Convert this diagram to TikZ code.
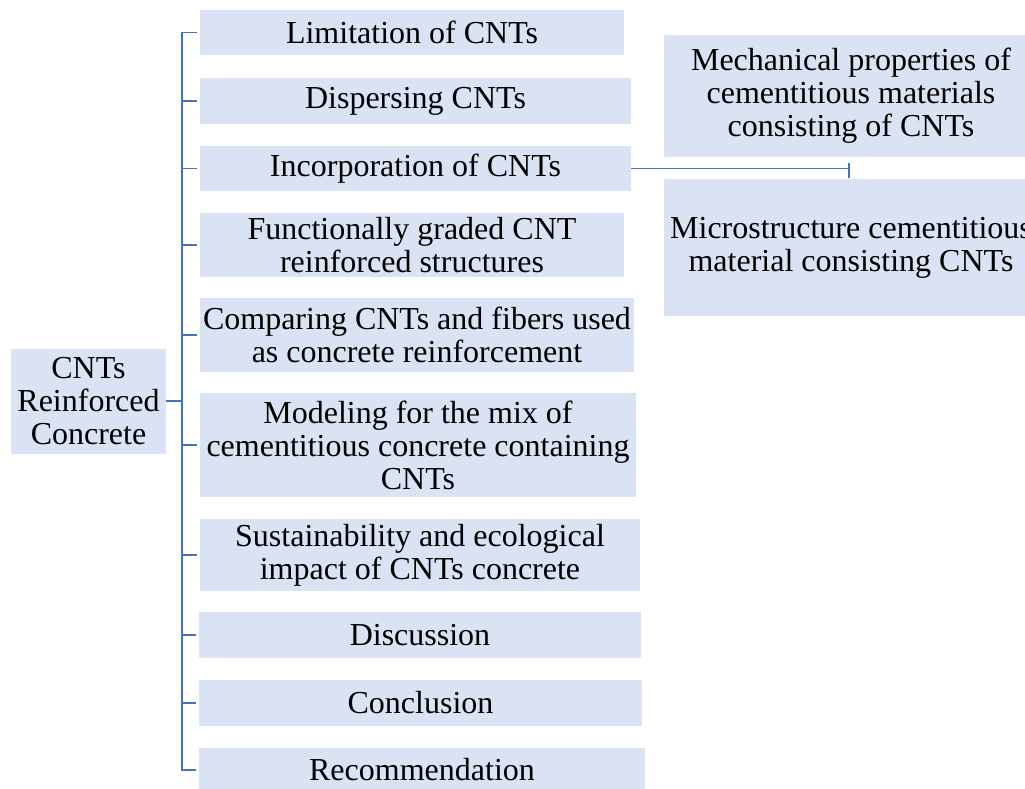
\documentclass[tikz,border=0pt]{standalone}
\usepackage{fontspec}
\setmainfont{Liberation Serif}
\definecolor{boxfill}{HTML}{DAE3F3}
\definecolor{linkblue}{HTML}{4472C4}
\tikzset{
  topic/.style={fill=boxfill, draw=none, inner sep=0pt, align=center,
    font=\fontsize{24}{24.75}\selectfont, text=black},
  link/.style={draw=linkblue, line width=1.1pt}
}
\begin{document}
\begin{tikzpicture}[x=0.75pt,y=-0.75pt]
\clip (0,0) rectangle (1025,789);
\fill[white] (0,0) rectangle (1025,789);
\node[topic, minimum width=116.25pt, minimum height=78.75pt] (root) at (88.5,401) {CNTs\\Reinforced\\Concrete};
\node[topic, minimum width=318pt, minimum height=33.75pt] (b1) at (412,32.5) {Limitation of CNTs};
\node[topic, minimum width=323.25pt, minimum height=34.5pt] (b2) at (415.5,101) {Dispersing CNTs};
\node[topic, minimum width=323.25pt, minimum height=33.75pt] (b3) at (415.5,168.5) {Incorporation of CNTs};
\node[topic, minimum width=318pt, minimum height=48pt] (b4) at (412,245) {Functionally graded CNT\\reinforced structures};
\node[topic, minimum width=325.5pt, minimum height=55.5pt] (b5) at (417,335) {Comparing CNTs and fibers used\\as concrete reinforcement};
\node[topic, minimum width=327pt, minimum height=78pt] (b6) at (418,445) {Modeling for the mix of\\cementitious concrete containing\\CNTs};
\node[topic, minimum width=330pt, minimum height=54pt] (b7) at (420,555) {Sustainability and ecological\\impact of CNTs concrete};
\node[topic, minimum width=331.5pt, minimum height=34.5pt] (b8) at (420,635) {Discussion};
\node[topic, minimum width=332.25pt, minimum height=34.5pt] (b9) at (420.5,703) {Conclusion};
\node[topic, minimum width=334.5pt, minimum height=33pt] (b10) at (422,770) {Recommendation};
\node[topic, minimum width=280.5pt, minimum height=91.5pt] (mech) at (851,96) {Mechanical properties of\\cementitious materials\\consisting of CNTs};
\node[topic, minimum width=280.5pt, minimum height=102.75pt] (micro) at (851,247.5) {Microstructure cementitious\\material consisting CNTs};
\coordinate (bus) at (182,401);
\draw[link] (root.east) -- (bus);
\foreach \b in {b1,b2,b3,b4,b5,b6,b7,b8,b9,b10}{
  \draw[link] (bus) |- ([xshift=-2.25pt]\b.west);
}
\coordinate (j) at (849,168.5);
\draw[link] (b3.east) -- (j);
\draw[link] ([yshift=4.5pt]j) -- ([yshift=-6.75pt]j);
\end{tikzpicture}
\end{document}
